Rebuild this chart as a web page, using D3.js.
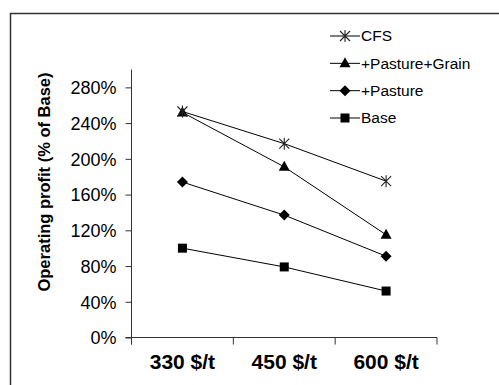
<!DOCTYPE html>
<html>
<head>
<meta charset="utf-8">
<script src="https://cdn.jsdelivr.net/npm/d3@7"></script>
<style>
  html, body { margin: 0; padding: 0; background: #fff; overflow: hidden; }
  svg { display: block; overflow: hidden; }
  text { font-family: "Liberation Sans", Arial, sans-serif; fill: #000; }
</style>
</head>
<body>
<svg id="chart" width="499" height="385"></svg>
<script>
// Feed price scenarios
const categories = ["330 $/t", "450 $/t", "600 $/t"];

// Operating profit as % of the Base scenario at 330 $/t
const seriesNames = ["CFS", "+Pasture+Grain", "+Pasture", "Base"];
const cfs = [253, 217, 175];
const pastureGrain = [252, 191, 115];
const pasture = [174, 137, 91];
const base = [100, 79, 52];

const yTicks = [0, 40, 80, 120, 160, 200, 240, 280];
const yMax = 300;

const series = [
  { name: seriesNames[0], values: cfs, marker: "star" },
  { name: seriesNames[1], values: pastureGrain, marker: "triangle" },
  { name: seriesNames[2], values: pasture, marker: "diamond" },
  { name: seriesNames[3], values: base, marker: "square" }
];

const svg = d3.select("#chart");

// Outer chart frame (runs off the right and bottom edges)
svg.append("rect")
  .attr("x", 10.5).attr("y", 13.5)
  .attr("width", 560).attr("height", 440)
  .attr("fill", "none").attr("stroke", "#333").attr("stroke-width", 1.5);

const plot = { left: 131.5, right: 437, top: 69.5, bottom: 337.5 };

const x = d3.scaleBand().domain(categories).range([plot.left, plot.right]).padding(0);
const y = d3.scaleLinear().domain([0, yMax]).range([plot.bottom, plot.top]);

// Y axis
const yAxis = svg.append("g")
  .attr("transform", `translate(${plot.left},0)`)
  .call(d3.axisLeft(y).tickValues(yTicks).tickSize(6).tickSizeOuter(0).tickFormat(d => d + "%"));
yAxis.select(".domain").attr("stroke", "#333").attr("d", `M0,${plot.top}V${plot.bottom + 7}`);
yAxis.selectAll(".tick line").attr("stroke", "#333");
yAxis.selectAll(".tick text")
  .attr("x", -15).attr("dy", "0.35em")
  .style("font-size", "18px").style("font-family", "'Liberation Sans', Arial, sans-serif");

// X axis
const xAxis = svg.append("g")
  .attr("transform", `translate(0,${plot.bottom})`)
  .call(d3.axisBottom(x).tickSize(0).tickPadding(0));
xAxis.select(".domain").attr("stroke", "#333").attr("d", `M${plot.left - 6},0H${plot.right}`);
xAxis.selectAll(".tick text")
  .attr("y", 24).attr("dy", "0.35em")
  .style("font-size", "21px").style("font-weight", "bold")
  .style("font-family", "'Liberation Sans', Arial, sans-serif");
// Tick marks between categories
const boundaries = categories.map(c => x(c)).concat([plot.right]);
xAxis.selectAll(".sep").data(boundaries).enter().append("line")
  .attr("class", "sep")
  .attr("x1", d => d).attr("x2", d => d)
  .attr("y1", 0).attr("y2", 7)
  .attr("stroke", "#333");

// Y axis title
svg.append("text")
  .attr("transform", `translate(50,182) rotate(-90)`)
  .attr("text-anchor", "middle")
  .style("font-size", "16.5px").style("font-weight", "bold")
  .text("Operating profit (% of Base)");

// Marker drawing
function drawMarker(g, type) {
  if (type === "star") {
    const r = 5;
    g.append("path")
      .attr("d", `M${-r},${-r}L${r},${r}M${-r},${r}L${r},${-r}M0,${-r - 1}V${r + 1}`)
      .attr("stroke", "#222").attr("stroke-width", 1.1).attr("fill", "none");
  } else if (type === "triangle") {
    g.append("path").attr("d", "M0,-6L5.5,4L-5.5,4Z").attr("fill", "#000");
  } else if (type === "diamond") {
    g.append("path").attr("d", "M0,-5.5L5.5,0L0,5.5L-5.5,0Z").attr("fill", "#000");
  } else if (type === "square") {
    g.append("rect").attr("x", -4.5).attr("y", -4.5).attr("width", 9).attr("height", 9).attr("fill", "#000");
  }
}

const cx = c => x(c) + x.bandwidth() / 2;
const line = d3.line().x((d, i) => cx(categories[i])).y(d => y(d));

// Lines
series.forEach(s => {
  svg.append("path")
    .datum(s.values)
    .attr("d", line)
    .attr("fill", "none")
    .attr("stroke", "#000")
    .attr("stroke-width", 1);
});

// Markers (drawn after lines so they sit on top)
series.slice().reverse().forEach(s => {
  s.values.forEach((v, i) => {
    const g = svg.append("g").attr("transform", `translate(${cx(categories[i])},${y(v)})`);
    drawMarker(g, s.marker);
  });
});

// Legend
const legendY = d3.scalePoint().domain(seriesNames).range([36, 118]);
const legend = svg.append("g");
series.forEach(s => {
  const ly = legendY(s.name);
  legend.append("line")
    .attr("x1", 330).attr("x2", 360).attr("y1", ly).attr("y2", ly)
    .attr("stroke", "#000").attr("stroke-width", 1);
  const g = legend.append("g").attr("transform", `translate(345,${ly})`);
  drawMarker(g, s.marker);
  legend.append("text")
    .attr("x", 361).attr("y", ly).attr("dy", "0.35em")
    .style("font-size", "15.5px")
    .text(s.name);
});
</script>
</body>
</html>
